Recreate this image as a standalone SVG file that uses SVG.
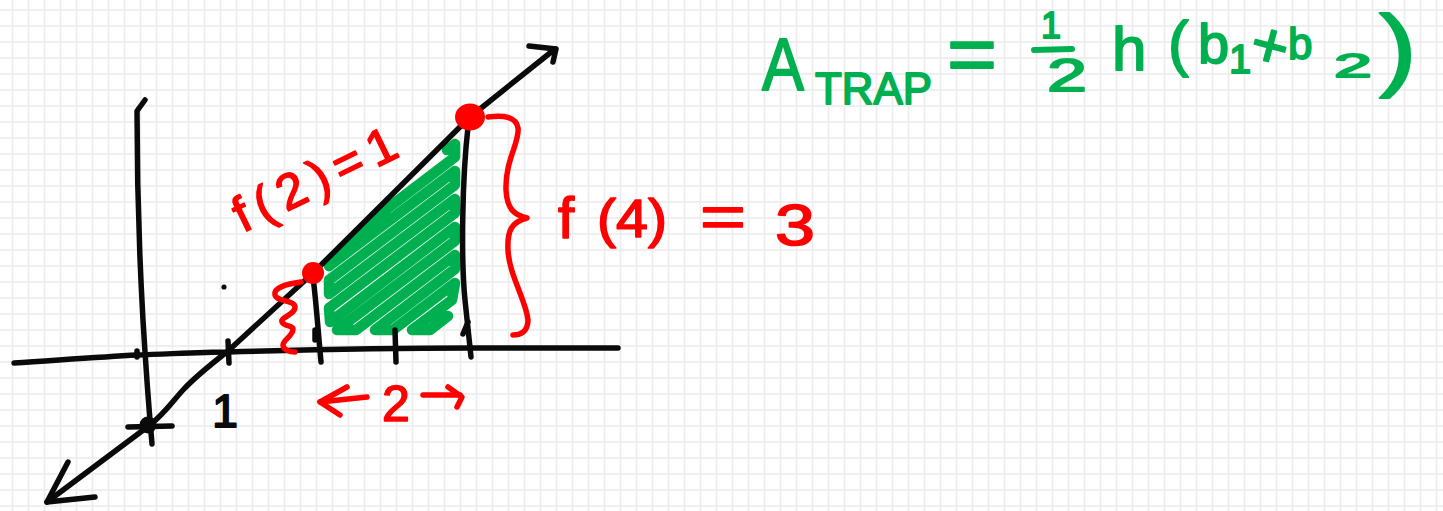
<svg xmlns="http://www.w3.org/2000/svg" width="1443" height="511" viewBox="0 0 1443 511">
<defs>
<pattern id="grid" width="16" height="16" patternUnits="userSpaceOnUse">
<rect width="16" height="16" fill="#ffffff"/>
<line x1="12.5" y1="0" x2="12.5" y2="16" stroke="#ececec" stroke-width="1.6"/>
<line x1="0" y1="10" x2="16" y2="10" stroke="#ececec" stroke-width="1.6"/>
</pattern>
<style>
.k{stroke:#0a0a0a;stroke-width:5.5;fill:none;stroke-linecap:round;stroke-linejoin:round}
.r{stroke:#ff0000;stroke-width:5.5;fill:none;stroke-linecap:round;stroke-linejoin:round}
.g{stroke:#00b050;fill:none;stroke-linecap:round;stroke-linejoin:round}
.tr{fill:#ff0000;stroke:#ff0000;stroke-width:1.6;stroke-linejoin:round;font-family:"Liberation Sans","DejaVu Sans",sans-serif}
.tg{fill:#00b050;stroke:#00b050;stroke-width:1.8;stroke-linejoin:round;font-family:"Liberation Sans","DejaVu Sans",sans-serif}
.tk{fill:#0a0a0a;stroke:#0a0a0a;stroke-width:2;stroke-linejoin:round;font-family:"Liberation Sans","DejaVu Sans",sans-serif}
</style>
</defs>
<rect width="1443" height="511" fill="url(#grid)"/>

<g id="shading">
<path class="g" stroke-width="10.5" d="M447,150 L455,144 L455,157 L388,208 L329,266 L455,171 L455,185 L329,280 L329,294 L455,199 L455,213 L329,308 L330,322 L455,227 L455,241 L337,330 L356,330 L455,255 L455,269 L375,330 L393,330 L455,283 L452,300 L412,330 L430,330 L448,316"/>
</g>

<g id="axes">
<path class="k" stroke-width="6.5" d="M14,363 C60,360 100,357 137,355 C170,354 200,352 228,352 C300,350 400,348 470,348 C530,348 580,348 618,348"/>
<path class="k" d="M145,100 L137,111 C137,160 139,250 143,320 C146,370 149,410 152,444"/>
<path class="k" stroke-width="4" d="M137,351 L137,357"/>
</g>

<g id="line">
<path class="k" d="M47,502 L150,425 C165,413 172,402 183,390 C195,377 210,365 228,351 L313,273 L470,117 L555,49"/>
<path class="k" d="M68,462 L47,502 L95,497"/>
<path class="k" d="M529,46 L556,49 L553,62"/>
</g>

<g id="origin-dot">
<circle cx="148" cy="425" r="8.5" fill="#0a0a0a"/>
<path class="k" d="M128,427 L172,426"/>
<circle cx="224" cy="287" r="2.6" fill="#0a0a0a"/>
</g>

<g id="ticks">
<path class="k" d="M228,341 L229,363"/>
<path class="k" d="M313,277 C316,300 318,330 321,362"/>
<path class="k" stroke-width="4" d="M315,330 L315,340"/>
<path class="k" d="M395,330 L396,362"/>
<path class="k" d="M468,127 C462,180 461,260 465,300 L471,357"/>
<path class="k" stroke-width="4.5" d="M463,334 L468,322"/>
</g>

<g id="points">
<circle cx="313" cy="273" r="11" fill="#ff0000"/>
<ellipse cx="470" cy="117" rx="15" ry="13.5" fill="#ff0000"/>
</g>

<g id="brace-small">
<path class="r" d="M301,282 C286,284 273,288 275,295 C277,302 295,300 295,307 C295,315 280,317 282,322 C284,327 293,325 293,329 C293,336 283,340 283,345 C283,350 290,352 295,352"/>
</g>

<g id="brace-big">
<path class="r" d="M488,117 C505,115 516,117 518,128 C520,142 505,160 506,190 C507,210 515,215 527,218 C512,222 507,230 508,250 C509,275 526,300 528,320 C528,332 520,335 513,335"/>
</g>

<g id="width-label">
<path class="r" d="M347,387 L320,402 L340,415"/>
<path class="r" d="M320,402 L367,397"/>
<path class="r" d="M423,395 L460,395"/>
<path class="r" d="M448,387 L462,397 L457,407"/>
<text class="tr" x="396" y="421" font-size="50" text-anchor="middle">2</text>
</g>

<g id="labels">
<text class="tk" x="225" y="427" font-size="46" text-anchor="middle">1</text>
<text class="tr" font-size="50" transform="translate(243,233) rotate(-26)" textLength="176" lengthAdjust="spacing">f(2)=1</text>
<text class="tr" x="558" y="238" font-size="58">f</text>
<text class="tr" x="597" y="237" font-size="54" textLength="70" lengthAdjust="spacingAndGlyphs">(4)</text>
<text class="tr" x="700" y="237" font-size="60" textLength="46" lengthAdjust="spacingAndGlyphs">=</text>
<text class="tr" x="775" y="245" font-size="58" textLength="40" lengthAdjust="spacingAndGlyphs">3</text>
</g>

<g id="formula">
<text class="tg" x="762" y="90" font-size="74" textLength="42" lengthAdjust="spacingAndGlyphs">A</text>
<text class="tg" x="815" y="104" font-size="44" textLength="117" lengthAdjust="spacingAndGlyphs">TRAP</text>
<text class="tg" x="947" y="81" font-size="80" textLength="50" lengthAdjust="spacingAndGlyphs">=</text>
<text class="tg" x="1051" y="38" font-size="36" text-anchor="middle">1</text>
<path class="g" stroke-width="6" d="M1034,50 L1072,49"/>
<text class="tg" x="1047" y="91" font-size="46" textLength="40" lengthAdjust="spacingAndGlyphs">2</text>
<text class="tg" x="1112" y="70" font-size="62">h</text>
<text class="tg" x="1168" y="64" font-size="62">(</text>
<text class="tg" x="1198" y="63" font-size="56">b</text>
<text class="tg" x="1240" y="73" font-size="40" text-anchor="middle">1</text>
<text class="tg" x="0" y="21" font-size="64" text-anchor="middle" transform="translate(1270,46) rotate(15)">+</text>
<text class="tg" x="1288" y="59" font-size="44">b</text>
<text class="tg" x="1334" y="77" font-size="34" textLength="38" lengthAdjust="spacingAndGlyphs">2</text>
<text class="tg" x="1379" y="79" font-size="90" textLength="38" lengthAdjust="spacingAndGlyphs">)</text>
</g>
</svg>
